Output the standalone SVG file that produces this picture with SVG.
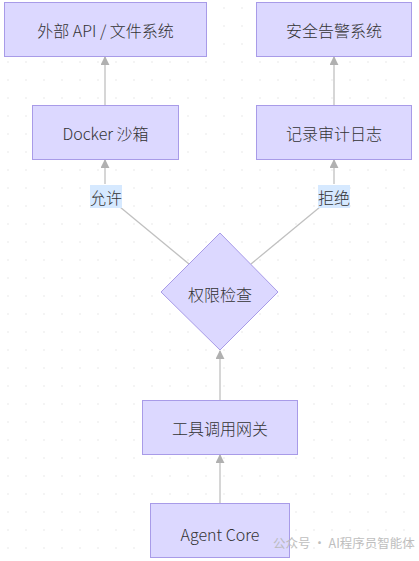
<svg xmlns="http://www.w3.org/2000/svg" width="419" height="561" viewBox="0 0 419 561">
<defs>
<pattern id="dots" x="7" y="7" width="18" height="18" patternUnits="userSpaceOnUse">
<circle cx="1" cy="1" r="0.8" fill="#e6e6e6"/>
</pattern>
<marker id="arr" viewBox="0 0 10 10" refX="9" refY="5" markerWidth="9" markerHeight="9" markerUnits="userSpaceOnUse" orient="auto">
<path d="M0,0 L10,5 L0,10 z" fill="#b0b0b0"/>
</marker>
<style>
.node{fill:#dcd8ff;stroke:#a89be8;stroke-width:1}
.t{font-family:"Noto Sans CJK SC","Noto Sans",sans-serif;font-size:16px;font-weight:300;fill:#333;text-anchor:middle;dominant-baseline:central}
.edge{stroke:#c0c0c0;stroke-width:1.3;fill:none}
.lbg{fill:#d6e9ff}
.lt{font-family:"Noto Sans CJK SC","Noto Sans",sans-serif;font-size:16px;font-weight:300;fill:#333;text-anchor:middle;dominant-baseline:central}
</style>
</defs>
<rect width="419" height="561" fill="#ffffff"/>
<rect width="419" height="561" fill="url(#dots)"/>
<g id="connectors">
<line class="edge" x1="105" y1="105" x2="105" y2="57" marker-end="url(#arr)"/>
<line class="edge" x1="334" y1="105" x2="334" y2="57" marker-end="url(#arr)"/>
<line class="edge" x1="105" y1="184" x2="105" y2="160" marker-end="url(#arr)"/>
<line class="edge" x1="334" y1="184" x2="334" y2="160" marker-end="url(#arr)"/>
<line class="edge" x1="189" y1="264" x2="120" y2="207"/>
<line class="edge" x1="251" y1="264" x2="320" y2="207"/>
<line class="edge" x1="220" y1="400" x2="220" y2="351" marker-end="url(#arr)"/>
<line class="edge" x1="220" y1="503" x2="220" y2="455" marker-end="url(#arr)"/>
<g id="label-allow">
<rect class="lbg" x="90" y="185" width="32" height="23"/>
<text class="lt" x="106" y="196.5">允许</text>
</g>
<g id="label-deny">
<rect class="lbg" x="318" y="185" width="32" height="23"/>
<text class="lt" x="334" y="196.5">拒绝</text>
</g>
</g>
<g id="ext">
<rect class="node" x="4.5" y="2.5" width="202" height="54"/>
<text class="t" x="105.5" y="30">外部 API / 文件系统</text>
</g>
<g id="alert">
<rect class="node" x="256.5" y="2.5" width="155" height="54"/>
<text class="t" x="334" y="30">安全告警系统</text>
</g>
<g id="docker">
<rect class="node" x="32.5" y="105.5" width="146" height="54"/>
<text class="t" x="105.5" y="133">Docker 沙箱</text>
</g>
<g id="audit">
<rect class="node" x="256.5" y="105.5" width="155" height="54"/>
<text class="t" x="334" y="133">记录审计日志</text>
</g>
<g id="check">
<polygon class="node" points="220,233 278,292 220,350 161,292"/>
<text class="t" x="220" y="294">权限检查</text>
</g>
<g id="gateway">
<rect class="node" x="142.5" y="400.5" width="155" height="54"/>
<text class="t" x="220" y="428">工具调用网关</text>
</g>
<g id="core">
<rect class="node" x="150.5" y="503.5" width="139" height="54"/>
<text class="t" x="220" y="534">Agent Core</text>
</g>
<g id="watermark">
<text x="273" y="548" font-family="'Noto Sans CJK SC','Noto Sans',sans-serif" font-size="12.5" fill="#b8b8b8" opacity="0.9">公众号 · AI程序员智能体</text>
</g>
</svg>
